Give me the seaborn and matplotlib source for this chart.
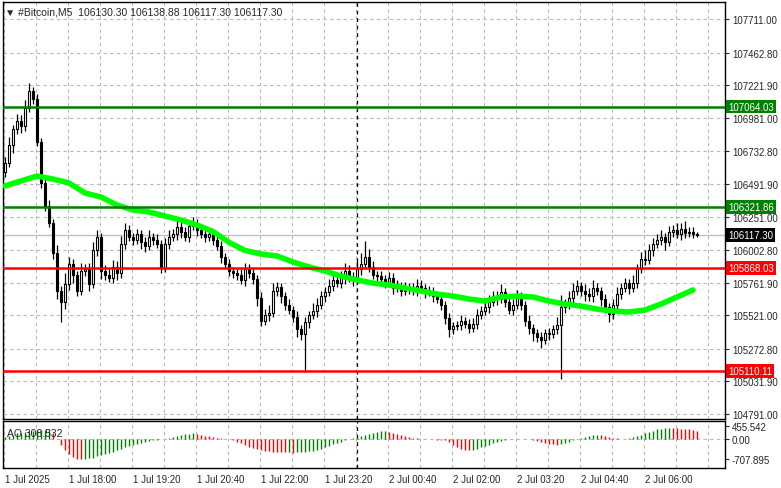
import numpy as np
import matplotlib
matplotlib.use("Agg")
import matplotlib.pyplot as plt
import matplotlib.transforms as mtrans
import seaborn as sns
import pandas as pd

closes = [106650,106780,106900,106960,106920,107050,107180,107120,106800,106500,
          106330,106200,105980,105700,105620,105750,105900,105820,105700,105850,
          105860,105750,106000,106100,105850,105820,105800,105880,105830,106050,
          106150,106100,106080,106120,106060,106030,106100,106080,106050,105870,
          106050,106100,106120,106170,106140,106100,106180,106200,106150,106120,
          106100,106120,106080,106030,105950,105900,105850,105830,105820,105780,
          105860,105830,105790,105650,105480,105520,105540,105700,105730,105660,
          105600,105560,105510,105420,105380,105470,105520,105550,105600,105660,
          105690,105740,105780,105760,105800,105850,105800,105780,105860,105900,
          105950,105880,105820,105810,105790,105760,105800,105720,105740,105700,
          105730,105720,105700,105740,105720,105690,105700,105660,105640,105600,
          105500,105420,105440,105450,105480,105460,105430,105460,105520,105550,
          105580,105620,105660,105640,105690,105620,105560,105600,105660,105600,
          105480,105430,105390,105360,105340,105390,105380,105420,105450,105580,
          105600,105650,105700,105740,105700,105680,105660,105720,105700,105640,
          105580,105530,105600,105680,105720,105760,105720,105760,105860,105940,
          105930,106000,106050,106080,106100,106060,106140,106150,106120,106160,
          106130,106140,106120,106117]
first_open = 106580
wick_up = [40,60,30,50,40,60,60,30,40,30, 30,40,30,60,40,80,50,40,30,60,
           40,50,60,50,30,40,40,50,40,60, 50,40,30,40,30,40,50,30,40,30,
           40,50,40,60,40,30,40,50,30,40, 30,40,30,30,40,30,40,30,30,40,
           50,40,30,30,40,50,60,60,40,30, 30,40,30,40,30,40,30,60,50,40,
           40,50,40,40,50,60,40,40,60,80, 120,60,40,30,40,30,40,30,40,30,
           40,30,40,50,40,30,40,30,30,40, 30,40,30,30,40,30,30,40,50,40,
           40,50,40,40,60,30,40,40,50,30, 30,40,30,30,40,30,40,30,60,90,
           40,50,60,40,30,50,40,60,40,30, 40,30,40,50,40,40,30,60,40,50,
           60,50,40,40,50,30,40,40,50,40, 60,30,30,20]
wick_dn = [40,30,60,40,50,40,30,40,30,40, 40,30,40,60,150,50,40,60,40,30,
           40,50,30,40,60,40,30,40,50,30, 40,30,40,30,50,40,30,40,30,40,
           30,40,30,40,50,30,40,30,40,30, 40,30,40,30,40,30,40,30,40,30,
           40,30,40,60,40,30,40,30,40,50, 40,30,40,60,40,270,40,30,40,30,
           40,30,40,30,40,50,30,40,30,40, 30,40,30,40,30,40,30,40,30,40,
           30,40,30,40,30,40,30,40,30,40, 40,60,40,30,40,30,40,30,40,30,
           30,40,30,40,30,40,30,40,30,40, 40,50,60,40,60,30,40,30,40,400,
           40,30,40,30,40,50,30,40,30,50, 40,60,40,30,40,30,40,30,40,30,
           40,30,40,30,40,60,30,40,30,40, 40,30,30,20]
ma_values = [106477,106514,106550,106528,106499,106425,106395,106336,106299,106284,
             106255,106225,106188,106140,106060,106000,105974,105959,105915,105878,
             105848,105811,105782,105759,105745,105723,105700,105678,105663,105641,
             105626,105656,105663,105656,105626,105604,105589,105567,105552,105545,
             105560,105604,105656,105708]
ao = [80,120,160,200,230,260,280,300,310,320,330,340,
      200,0,-200,-400,-550,-650,-700,-720,
      -710,-690,-660,-620,-580,-540,-500,-450,-400,-350,-300,-260,-220,-180,-140,-110,-80,-50,-30,-15,0,
      30,60,100,140,170,190,200,
      180,150,120,90,60,40,20,10,0,
      -40,-100,-160,-220,-280,-330,-370,-400,-420,-440,-450,-460,
      -470,-480,-470,-485,-480,-470,-460,-440,-420,-390,
      -340,-290,-240,-190,-140,-90,-50,-10,
      40,80,120,160,190,220,250,280,300,
      260,210,170,130,100,70,40,20,5,
      0,-5,-10,-20,-30,-40,
      -100,-200,-280,-340,-380,-400,
      -380,-340,-300,-260,-210,-160,-120,-80,-40,-10,
      0,5,0,-5,-10,-20,
      -60,-100,-140,-170,-190,-200,
      -170,-130,-90,-50,-10,30,70,100,130,150,
      130,100,70,40,20,10,5,
      30,60,100,150,200,250,300,340,370,390,400,
      390,380,370,360,340,320,300]
price_ticks = [107711.00,107462.80,107221.90,106981.00,106732.80,106491.90,106251.00,
               106002.80,105761.90,105521.00,105272.80,105031.90,104791.00]
time_labels = ["1 Jul 2025","1 Jul 18:00","1 Jul 19:20","1 Jul 20:40","1 Jul 22:00","1 Jul 23:20",
               "2 Jul 00:40","2 Jul 02:00","2 Jul 03:20","2 Jul 04:40","2 Jul 06:00"]
levels = [107064.03,106321.86,105868.03,105110.11]
level_colors = ["#008000","#008000","#ff0000","#ff0000"]
last_price = 106117.30

sns.set_style("white")
plt.rcParams['font.family'] = ['Liberation Sans', 'DejaVu Sans']

n = len(closes)
idx = np.arange(n)
opens = np.array([first_open] + closes[:-1], dtype=float)
c = np.array(closes, dtype=float)
highs = np.maximum(opens, c) + np.array(wick_up)
lows = np.minimum(opens, c) - np.array(wick_dn)

W, H = 781, 489
fig = plt.figure(figsize=(W/100, H/100), dpi=100)
ax = fig.add_axes([3/W, 1-420/H, 722/W, 417/H])
ax2 = fig.add_axes([3/W, 1-469/H, 722/W, 47/H])
xl = (-0.5, 180)
fs = 7

# main price panel
ax.set_xlim(*xl)
pt = lambda y: 107711 - (y - 20) * 7.392
ax.set_ylim(pt(420), pt(3))
for xv in np.arange(-0.25, 180, 8):
    ax.axvline(xv, color="#b8b8b8", ls=(0, (3, 3)), lw=0.8, zorder=0)
for yv in price_ticks:
    ax.axhline(yv, color="#b8b8b8", ls=(0, (3, 3)), lw=0.8, zorder=0)
ax.axvline(88, color="black", ls=(0, (3, 3)), lw=0.9, zorder=1)

ax.vlines(idx, lows, highs, color="black", lw=0.9, zorder=3)
up = c >= opens
ax.bar(idx[up], (c - opens)[up], bottom=opens[up], width=0.7, color="white", edgecolor="black", lw=0.8, zorder=4)
ax.bar(idx[~up], (opens - c)[~up], bottom=c[~up], width=0.7, color="black", edgecolor="black", lw=0.8, zorder=4)

ma_df = pd.DataFrame({"i": np.arange(len(ma_values)) * 4, "ma": ma_values})
sns.lineplot(data=ma_df, x="i", y="ma", ax=ax, color="#00ff00", lw=4, zorder=5)

ax.axhline(last_price, color="#c0c0c0", lw=1, zorder=2)
for lv, col in zip(levels, level_colors):
    ax.axhline(lv, color=col, lw=1.8, zorder=6)

ax.yaxis.tick_right()
ax.set_yticks(price_ticks)
ax.set_yticklabels([f"{v:.2f}" for v in price_ticks], fontsize=fs)
ax.tick_params(axis="y", length=3, pad=2, direction="out")
ax.set_xticks([])
ax.set_xlabel(""); ax.set_ylabel("")
trans = mtrans.blended_transform_factory(ax.transAxes, ax.transData)
for lv, col in zip(levels, level_colors):
    ax.text(1.004, lv, f"{lv:.2f}", transform=trans, fontsize=fs, color="white", va="center", ha="left",
            bbox=dict(boxstyle="square,pad=0.2", fc=col, ec="none"), zorder=10, clip_on=False)
ax.text(1.004, last_price, f"{last_price:.2f}", transform=trans, fontsize=fs, color="white", va="center", ha="left",
        bbox=dict(boxstyle="square,pad=0.2", fc="black", ec="none"), zorder=10, clip_on=False)
ax.text(0.003, 0.99, "▼ #Bitcoin,M5  106130.30 106138.88 106117.30 106117.30", transform=ax.transAxes,
        fontsize=7.5, va="top", ha="left", family=['Liberation Sans', 'DejaVu Sans'])
for s in ax.spines.values():
    s.set_color("black"); s.set_linewidth(1)

# AO panel
ax2.set_xlim(*xl)
ao_px = lambda y: (440 - y) * 35.6
ax2.set_ylim(ao_px(469), ao_px(422))
aoa = np.array(ao, dtype=float)
diff = np.diff(aoa, prepend=aoa[0] - 1)
cols = np.where(diff >= 0, "#008000", "#ff0000")
ax2.vlines(idx, 0, aoa, colors=cols, lw=1.0, zorder=3)
for xv in np.arange(-0.25, 180, 8):
    ax2.axvline(xv, color="#b8b8b8", ls=(0, (3, 3)), lw=0.8, zorder=0)
ax2.axhline(0, color="#b8b8b8", ls=(0, (3, 3)), lw=0.8, zorder=0)
ax2.axvline(88, color="black", ls=(0, (3, 3)), lw=0.9, zorder=1)
ax2.yaxis.tick_right()
ax2.set_yticks([455.542, 0, -707.895])
ax2.set_yticklabels(["455.542", "0.00", "-707.895"], fontsize=fs)
ax2.tick_params(axis="y", length=3, pad=2)
ax2.set_xticks(np.arange(0, 161, 16))
ax2.set_xticklabels(time_labels, fontsize=fs, ha="left")
ax2.tick_params(axis="x", length=3, pad=1)
ax2.text(0.005, 0.85, "AO 308.532", transform=ax2.transAxes, fontsize=7.5, va="top", ha="left")
for s in ax2.spines.values():
    s.set_color("black"); s.set_linewidth(1)

fig.savefig("out.png", dpi=100, facecolor="white")
